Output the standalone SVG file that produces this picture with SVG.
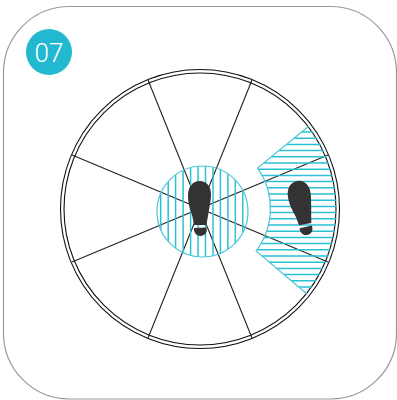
<svg xmlns="http://www.w3.org/2000/svg" width="397" height="400" viewBox="0 0 397 400">
<style>
.ring{fill:none;stroke:#111;stroke-width:1.1}
.spoke{stroke:#222;stroke-width:1.1;fill:none}
.hatch{stroke:#2cc0d4;stroke-width:1.5;fill:none}
.edge{fill:none;stroke:#4cc6d8;stroke-width:1.2}
.foot{fill:#333}
</style>
<defs>
<clipPath id="cc"><circle cx="202.5" cy="211.5" r="45.5"/></clipPath>
<clipPath id="cs"><path d="M257.5 168L309 126A137 137 0 0 1 307 294L256 251A70 70 0 0 0 257.5 168Z"/></clipPath>
<g id="shoe">
<path d="M200 181C192.500 181 188 187 188 196C188 205 191 211 192.500 217L194 225L206.500 225C207.500 218 208.500 213 209.500 207C210.500 201 211 198 211 194C211 186 206 181 200 181Z"/>
<path d="M194 228L206.500 227.500C207.500 232 205 236 200.300 236C196 236 193.500 232 194 228Z"/>
</g>
</defs>
<rect id="card" x="3.500" y="6.500" width="393" height="392.500" rx="66" ry="66" fill="#fff" stroke="#999" stroke-width="1.200"/>
<g id="badge">
<circle cx="49" cy="52" r="23" fill="#22b8cf"/>
<text x="49" y="61.500" text-anchor="middle" font-family="Roboto,'Liberation Sans',Arial,sans-serif" font-weight="300" font-size="26" fill="#fff">07</text>
</g>
<g id="connectors">
<path class="spoke" d="M148 80L252 338M252 80L148 338M72 155L328 262M328 155L72 262"/>
</g>
<g id="wheel">
<circle class="ring" cx="200" cy="209" r="139.500"/>
<circle class="ring" cx="200" cy="209" r="136"/>
</g>
<g id="center-zone">
<g class="hatch" clip-path="url(#cc)">
<path d="M160.700 160V262M168.200 160V262M175.600 160V262M183.100 160V262M190.600 160V262M198 160V262M205.500 160V262M213 160V262M220.400 160V262M227.900 160V262M235.300 160V262M242.800 160V262"/>
</g>
<circle class="edge" cx="202.500" cy="211.500" r="45.500"/>
</g>
<g id="sector-zone">
<g class="hatch" clip-path="url(#cs)">
<path d="M250 132H340M250 138.200H340M250 144.400H340M250 150.600H340M250 156.800H340M250 163H340M250 169.200H340M250 175.400H340M250 181.600H340M250 187.800H340M250 194H340M250 200.200H340M250 206.400H340M250 212.600H340M250 218.800H340M250 225H340M250 231.200H340M250 237.400H340M250 243.600H340M250 249.800H340M250 256H340M250 262.200H340M250 268.400H340M250 274.600H340M250 280.800H340M250 287H340"/>
</g>
<path class="edge" d="M309 126L257.500 168A70 70 0 0 1 256 251L307 294"/>
</g>
<use id="foot-center" href="#shoe" class="foot"/>
<use id="foot-right" href="#shoe" class="foot" transform="translate(102 -0.500) rotate(-10 200 208)"/>
</svg>
